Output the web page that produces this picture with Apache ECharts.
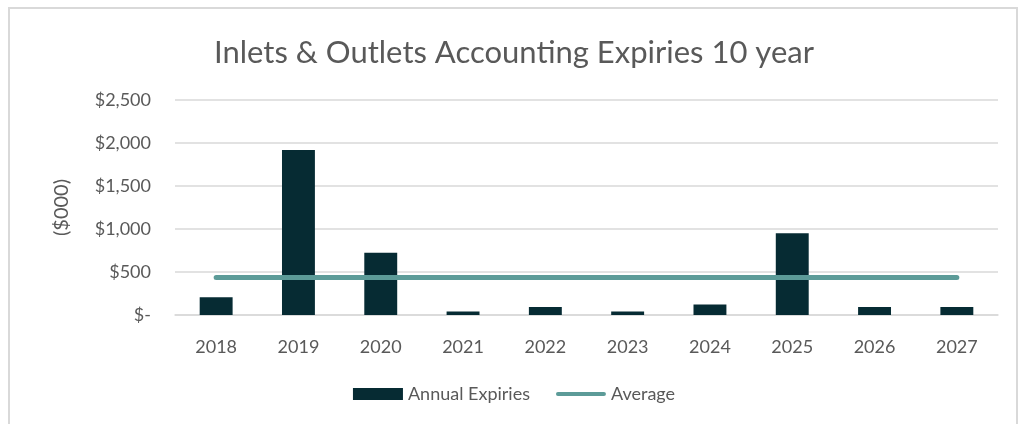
<!DOCTYPE html>
<html lang="en">
<head>
<meta charset="UTF-8">
<script src="https://cdn.jsdelivr.net/npm/echarts@6/dist/echarts.min.js"></script>
<title>Inlets & Outlets Accounting Expiries</title>
<style>
  *{margin:0;padding:0}
  html,body{width:100%;height:100%;background:#fff;overflow:hidden}
  .frame{position:absolute;left:8px;top:7px;width:1010px;height:430px;border:2px solid #d9d9d9;box-sizing:border-box}
  #main{position:absolute;left:0;top:0;width:1028px;height:424px}
</style>
</head>
<body>
<div class="frame"></div>
<div id="main"></div>
<script type="text/javascript">
// data ($000)
var years = ['2018','2019','2020','2021','2022','2023','2024','2025','2026','2027'];
var annualExpiries = [205, 1920, 725, 40, 93, 40, 121, 950, 93, 93];
var average = [435, 435, 435, 435, 435, 435, 435, 435, 435, 435];

var myChart = echarts.init(document.getElementById('main'));
var txt = '#595959';
var font = 'Lato, "Open Sans", sans-serif';

var option = {
  backgroundColor: 'transparent',
  animation: false,
  title: {
    text: 'Inlets & Outlets Accounting Expiries 10 year',
    left: 'center',
    top: 32,
    textStyle: {color: txt, fontSize: 31, fontWeight: 'normal', fontFamily: font}
  },
  legend: {
    bottom: 16,
    left: 'center',
    itemGap: 26,
    itemWidth: 50,
    itemHeight: 12,
    textStyle: {color: txt, fontSize: 18, fontFamily: font},
    data: [
      {name: 'Annual Expiries', icon: 'rect'},
      {name: 'Average', icon: 'path://M2,0 L48,0 A2,2 0 0 1 48,4 L2,4 A2,2 0 0 1 2,0 Z'}
    ]
  },
  grid: {left: 175, right: 30, top: 100, bottom: 109, containLabel: false},
  xAxis: {
    type: 'category',
    data: years,
    axisLine: {show: true, lineStyle: {color: '#d9d9d9', width: 1.5}},
    axisTick: {show: false},
    axisLabel: {color: txt, fontSize: 18, fontFamily: font, margin: 23}
  },
  yAxis: {
    type: 'value',
    min: 0,
    max: 2500,
    interval: 500,
    name: '($000)',
    nameLocation: 'middle',
    nameGap: 103,
    nameRotate: 90,
    nameTextStyle: {color: txt, fontSize: 20, fontFamily: font},
    axisLine: {show: false},
    axisTick: {show: false},
    splitLine: {lineStyle: {color: '#d9d9d9', width: 1.5}},
    axisLabel: {
      color: txt, fontSize: 18, fontFamily: font, margin: 24,
      formatter: function (v) {
        return v === 0 ? '$-' : '$' + v.toLocaleString('en-US');
      }
    }
  },
  series: [
    {
      name: 'Annual Expiries',
      type: 'bar',
      data: annualExpiries,
      barWidth: '40%',
      itemStyle: {color: '#062b33'}
    },
    {
      name: 'Average',
      type: 'line',
      data: average,
      symbol: 'none',
      z: 3,
      lineStyle: {color: '#5c9b98', width: 5, cap: 'round'},
      itemStyle: {color: '#5c9b98'}
    }
  ]
};
myChart.setOption(option);
</script>
</body>
</html>
